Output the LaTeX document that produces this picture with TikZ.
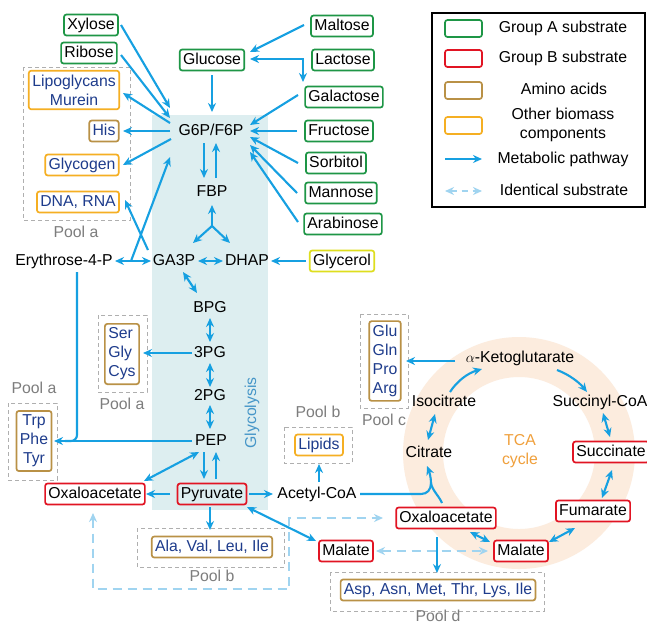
\documentclass[tikz,border=0pt]{standalone}
\usepackage{fontspec}
\setmainfont{Liberation Sans}
\usetikzlibrary{arrows.meta,calc}
\newcommand\myfs{\fontsize{15.8}{19}\selectfont}
\definecolor{cArr}{RGB}{22,160,225}
\definecolor{cId}{RGB}{160,212,240}
\definecolor{cA}{RGB}{30,150,70}
\definecolor{cB}{RGB}{225,20,35}
\definecolor{cAm}{RGB}{185,145,70}
\definecolor{cBio}{RGB}{245,175,35}
\definecolor{cGly}{RGB}{222,222,30}
\definecolor{cTx}{RGB}{30,60,140}
\definecolor{cPool}{RGB}{175,175,175}
\definecolor{cPoolTx}{RGB}{125,125,125}
\definecolor{cGlyco}{RGB}{221,238,240}
\definecolor{cGlycoTx}{RGB}{70,150,200}
\definecolor{cRing}{RGB}{252,236,222}
\definecolor{cTCA}{RGB}{240,160,60}
\begin{document}
\begin{tikzpicture}[x=1pt,y=-1pt,
  txt/.style={font=\myfs, inner sep=0pt, text height=11.5pt, text depth=3.5pt},
  box/.style={txt, draw, rounded corners=2.5pt, line width=1.7pt, inner xsep=3.3pt, minimum height=21pt, fill=white},
  ga/.style={box, draw=cA},
  gb/.style={box, draw=cB},
  am/.style={box, draw=cAm, text=cTx},
  bm/.style={box, draw=cBio, text=cTx},
  mbox/.style={font=\myfs, draw, rounded corners=2.5pt, line width=1.7pt, inner xsep=3.5pt, inner ysep=4pt, fill=white, text=cTx},
  plab/.style={txt, text=cPoolTx},
  pbox/.style={draw=cPool, line width=0.9pt, dash pattern=on 4pt off 3pt},
  line/.style={draw=cArr, line width=2.1pt},
  arr/.style={line, >={Stealth[length=9pt,width=8pt]}, ->},
  barr/.style={arr, <->},
  idarr/.style={draw=cId, line width=2.1pt, dash pattern=on 9pt off 6pt, >={Stealth[length=9pt,width=8pt]}, <->}
]
\useasboundingbox (0,0) rectangle (647,625);
\fill[white] (0,0) rectangle (647,625);

% backgrounds
\fill[cGlyco] (152,115) rectangle (268,510);
\fill[cRing, even odd rule] (519,453) circle[radius=116] (519,453) circle[radius=76];

% pools
\draw[pbox] (23,67) rectangle (130,220);
\draw[pbox] (98,315) rectangle (147,392);
\draw[pbox] (8,403) rectangle (57,480);
\draw[pbox] (360,314) rectangle (408,408);
\draw[pbox] (284,427) rectangle (352,463);
\draw[pbox] (137,528) rectangle (284,567);
\draw[pbox] (330,572) rectangle (544,611);
\node[plab] (pla1) at (76,233) {Pool a};
\node[plab] (pla2) at (122,405) {Pool a};
\node[plab] (pla3) at (34,389) {Pool a};
\node[plab] (plc) at (384,421) {Pool c};
\node[plab] (plb1) at (318,413) {Pool b};
\node[plab] (plb2) at (212,577) {Pool b};
\node[plab] (pld) at (438,617) {Pool d};

\node[font=\myfs, text=cGlycoTx, rotate=90, inner sep=0pt] (glyc) at (252,413) {Glycolysis};
\node[font=\myfs, text=cTCA, align=center, inner sep=0pt] (tca) at (520,451) {TCA\\cycle};

% legend
\draw[line width=1.3pt] (432,13) rectangle (645,207);
\node[ga, minimum width=37pt, minimum height=17pt] (lgA) at (463.5,28.5) {};
\node[gb, minimum width=37pt, minimum height=17pt] (lgB) at (463.5,58.5) {};
\node[am, minimum width=37pt, minimum height=17pt] (lgM) at (463.5,90.5) {};
\node[bm, minimum width=37pt, minimum height=17pt] (lgO) at (463.5,125.5) {};
\node[txt] (ltA) at (563,28) {Group A substrate};
\node[txt] (ltB) at (563,58) {Group B substrate};
\node[txt] (ltM) at (564,90) {Amino acids};
\node[font=\myfs, align=center, inner sep=0pt] (ltO) at (563,125) {Other biomass\\components};
\node[txt] (ltP) at (563,159) {Metabolic pathway};
\node[txt] (ltI) at (564,191) {Identical substrate};
\coordinate (la1) at (445,159);
\coordinate (la2) at (482,159);
\coordinate (lb1) at (445,191);
\coordinate (lb2) at (482,191);
\draw[arr] (la1) -- (la2);
\draw[idarr, dash pattern=on 6pt off 5pt] (lb1) -- (lb2);

% nodes
\node[ga] (xylose) at (91,25) {Xylose};
\node[ga] (ribose) at (89,53) {Ribose};
\node[mbox, draw=cBio, align=center] (lipo) at (74,90) {Lipoglycans\\Murein};
\node[am] (his) at (104,131) {His};
\node[bm] (glycogen) at (82,165) {Glycogen};
\node[bm] (dna) at (78,202) {DNA, RNA};
\node[ga] (glucose) at (212,60) {Glucose};
\node[ga] (maltose) at (342,26) {Maltose};
\node[ga] (lactose) at (343,60) {Lactose};
\node[ga] (galactose) at (344,97) {Galactose};
\node[ga] (fructose) at (339,131) {Fructose};
\node[ga] (sorbitol) at (336,163) {Sorbitol};
\node[ga] (mannose) at (341,193) {Mannose};
\node[ga] (arabinose) at (343,224) {Arabinose};
\node[txt] (g6p) at (211,131) {G6P/F6P};
\node[txt] (fbp) at (212,192) {FBP};
\node[txt] (ga3p) at (174,261) {GA3P};
\node[txt] (dhap) at (247,261) {DHAP};
\node[box, draw=cGly] (glycerol) at (342,261) {Glycerol};
\node[txt] (ery) at (64,261) {Erythrose-4-P};
\node[txt] (bpg) at (210,308) {BPG};
\node[txt] (pg3) at (210,353) {3PG};
\node[txt] (pg2) at (210,396) {2PG};
\node[txt] (pep) at (211,441) {PEP};
\node[gb, fill=none] (pyr) at (212,494) {Pyruvate};
\node[gb] (oal) at (95,494) {Oxaloacetate};
\node[txt] (acoa) at (317,494) {Acetyl-CoA};
\node[mbox, draw=cAm, align=left] (ser) at (122,354) {Ser\\Gly\\Cys};
\node[mbox, draw=cAm, align=center] (trp) at (34,441) {Trp\\Phe\\Tyr};
\node[am] (ala) at (212,547) {Ala, Val, Leu, Ile};
\node[bm] (lipids) at (319,445) {Lipids};
\node[gb] (malL) at (346,551) {Malate};
\node[gb] (malT) at (521,551) {Malate};
\node[gb] (oat) at (446,518) {Oxaloacetate};
\node[am] (asp) at (438,590) {Asp, Asn, Met, Thr, Lys, Ile};
\node[txt] (cit) at (429,453) {Citrate};
\node[txt] (iso) at (444,402) {Isocitrate};
\node[txt] (akg) at (520,358) {$\alpha$-Ketoglutarate};
\node[txt] (sucoa) at (600,402) {Succinyl-CoA};
\node[gb] (succ) at (611,452) {Succinate};
\node[gb] (fum) at (593,511) {Fumarate};
\node[mbox, draw=cAm, align=left] (glu) at (385,361) {Glu\\Gln\\Pro\\Arg};

% upper glycolysis arrows
\draw[arr] ($(xylose)+(30,0)$) -- ($(g6p)+(-41,-23)$);
\draw[arr] ($(ribose)+(32,2)$) -- ($(g6p)+(-41,-13)$);
\draw[arr] ($(g6p)+(-41,-8)$) -- ($(lipo)+(49,3)$);
\draw[arr] ($(g6p)+(-41,0)$) -- ($(his)+(19,0)$);
\draw[arr] ($(g6p)+(-40,8)$) -- ($(glycogen)+(41,0)$);
\coordinate (ej) at (131,261);
\draw[arr] (ej) -- ($(g6p)+(-41,26)$);
\draw[arr] ($(ga3p)+(-26,-11)$) -- ($(dna)+(47,-2)$);
\draw[barr] ($(ery)+(51,0)$) -- ($(ga3p)+(-23,0)$);
\draw[arr] ($(glucose)+(0,15)$) -- ($(g6p)+(1,-19)$);
\draw[arr] ($(maltose)+(-38,-1)$) -- ($(glucose)+(38,-8)$);
\draw[barr] ($(glucose)+(38,-1)$) -| ($(galactose)+(-41,-15)$);
\draw[arr] ($(galactose)+(-46,-2)$) -- ($(g6p)+(39,-6)$);
\draw[arr] ($(fructose)+(-42,0)$) -- ($(g6p)+(39,0)$);
\draw[arr] ($(sorbitol)+(-38,0)$) -- ($(g6p)+(39,6)$);
\draw[arr] ($(mannose)+(-44,0)$) -- ($(g6p)+(39,14)$);
\draw[arr] ($(arabinose)+(-45,-2)$) -- ($(g6p)+(39,21)$);
\draw[arr] ($(g6p)+(-7,12)$) -- ($(fbp)+(-8,-14)$);
\draw[arr] ($(fbp)+(4,-14)$) -- ($(g6p)+(5,12)$);
\coordinate (fj) at (212,226);
\draw[arr] (fj) -- ($(fbp)+(0,13)$);
\draw[arr] (fj) -- ($(ga3p)+(19,-18)$);
\draw[arr] (fj) -- ($(dhap)+(-17,-18)$);
\draw[barr] ($(ga3p)+(24,0)$) -- ($(dhap)+(-24,0)$);
\draw[arr] ($(glycerol)+(-36,0)$) -- ($(dhap)+(24,0)$);

% lower glycolysis
\draw[barr] ($(ga3p)+(9,11)$) -- ($(bpg)+(-13,-15)$);
\draw[barr] ($(bpg)+(0,10)$) -- ($(pg3)+(0,-11)$);
\draw[arr] ($(pg3)+(-18,0)$) -- ($(ser)+(21,-1)$);
\draw[barr] ($(pg3)+(0,10)$) -- ($(pg2)+(0,-9)$);
\draw[barr] ($(pg2)+(0,9)$) -- ($(pep)+(-1,-12)$);
\draw[arr] ($(pep)+(-19,0)$) -- ($(trp)+(20,0)$);
\draw[line, rounded corners=6pt] ($(ery)+(13,11)$) |- ($(trp)+(31,0)$);
\draw[barr] ($(pep)+(-12,11)$) -- ($(oal)+(49,-13)$);
\draw[arr] ($(pep)+(-7,11)$) -- ($(pyr)+(-8,-15)$);
\draw[arr] ($(pyr)+(4,-15)$) -- ($(pep)+(5,11)$);
\draw[arr] ($(pyr)+(-42,0)$) -- ($(oal)+(51,0)$);
\draw[arr] ($(pyr)+(37,0)$) -- ($(acoa)+(-44,0)$);
\draw[arr] ($(pyr)+(-2,13)$) -- ($(ala)+(-2,-17)$);
\draw[barr] ($(pyr)+(35,13)$) -- ($(malL)+(-30,-10)$);
\draw[arr] ($(acoa)+(2,-12)$) -- ($(lipids)+(0,19)$);

% citrate merge
\coordinate (cj) at (431,483);
\draw[line] ($(acoa)+(43,0)$) -- (421,494) .. controls (427,494) and (431,490) .. (cj);
\draw[line] ($(oat)+(-4,-15)$) .. controls (439,496) and (432,490) .. (cj);
\draw[arr] (cj) .. controls (431,477) and (429,471) .. ($(cit)+(-2,13)$);

% TCA
\draw[barr] ($(cit)+(-1,-13)$) -- ($(iso)+(-9,12)$);
\draw[arr] ($(iso)+(6,-10)$) .. controls (457,381) and (468,373) .. ($(akg)+(-38,11)$);
\draw[arr] ($(akg)+(37,12)$) .. controls (568,374) and (579,382) .. ($(sucoa)+(-13,-10)$);
\draw[barr] ($(sucoa)+(3,11)$) -- ($(succ)+(-1,-15)$);
\draw[barr] ($(succ)+(1,18)$) -- ($(fum)+(9,-13)$);
\draw[barr] ($(fum)+(-18,17)$) -- ($(malT)+(28,-9)$);
\draw[barr] ($(oat)+(24,14)$) -- ($(malT)+(-31,-9)$);
\draw[arr] ($(oat)+(-9,19)$) -- ($(asp)+(-1,-17)$);
\draw[arr] ($(akg)+(-65,3)$) -- ($(glu)+(21,0)$);

% identical substrate
\draw[idarr] ($(malL)+(30,0)$) -- ($(malT)+(-33,0)$);
\draw[idarr] ($(oal)+(-2,19)$) -- (93,589) -- (289,589) -- (289,518) -- ($(oat)+(-63,0)$);
\end{tikzpicture}
\end{document}
